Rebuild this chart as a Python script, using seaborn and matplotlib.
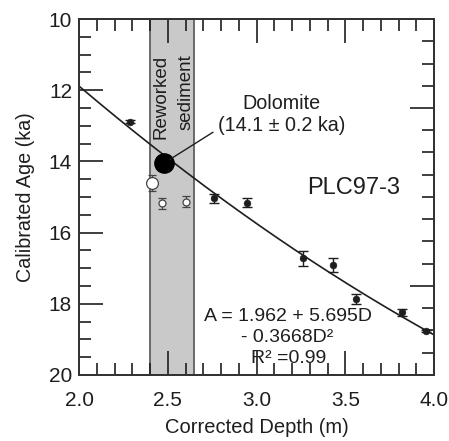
import matplotlib
matplotlib.use("Agg")
import matplotlib.pyplot as plt
import seaborn as sns
import numpy as np
import pandas as pd
from matplotlib.ticker import MultipleLocator, FixedLocator, NullFormatter

# ---- data ----
depth_filled = [2.29, 2.76, 2.945, 3.26, 3.43, 3.56, 3.82, 3.955]
age_filled = [12.88, 15.04, 15.16, 16.72, 16.91, 17.87, 18.24, 18.76]
err_filled = [0.04, 0.13, 0.13, 0.21, 0.20, 0.14, 0.10, 0.03]

depth_open = [2.41, 2.47, 2.60]
age_open = [14.6, 15.18, 15.13]
err_open = [0.22, 0.16, 0.16]
size_open = [8.5, 5.0, 5.0]

dolomite_depth = [2.48]
dolomite_age = [14.05]
dolomite_err = [0.22]

fit_coef = [1.962, 5.695, -0.3668]   # A = c0 + c1*D + c2*D^2
fit_range = [2.0, 4.0]
band = [2.4, 2.65]

x_ticks = [2.0, 2.5, 3.0, 3.5, 4.0]
x_ticklabels = ["2.0", "2.5", "3.0", "3.5", "4.0"]
y_ticks = [10, 12, 14, 16, 18, 20]
right_major = [12.5, 17.5]
right_minor_step = 0.625

# ---- style ----
sns.set_style("white")
plt.rcParams['font.family'] = ['Liberation Sans', 'DejaVu Sans']
ink = "#1e1e1e"

fig = plt.figure(figsize=(4.49, 4.41), dpi=100)
ax = fig.add_axes([0.176, 0.1497, 0.7906, 0.8072])

ax.axvspan(band[0], band[1], facecolor="#c9c9c9", edgecolor="#555555", lw=1.2, zorder=0.5)

D = np.linspace(fit_range[0], fit_range[1], 200)
A = fit_coef[0] + fit_coef[1] * D + fit_coef[2] * D ** 2
sns.lineplot(x=D, y=A, ax=ax, color=ink, lw=1.2, zorder=2)

# error bars
ax.errorbar(depth_filled, age_filled, yerr=err_filled, fmt="none", ecolor=ink,
            elinewidth=1.0, capsize=3.8, capthick=1.0, zorder=3)
ax.errorbar(depth_open, age_open, yerr=err_open, fmt="none", ecolor="#444444",
            elinewidth=0.9, capsize=3.0, capthick=0.9, zorder=3)
ax.errorbar(dolomite_depth, dolomite_age, yerr=dolomite_err, fmt="none", ecolor=ink,
            elinewidth=1.0, capsize=3.8, capthick=1.0, zorder=3)

df_f = pd.DataFrame({"d": depth_filled, "a": age_filled})
sns.scatterplot(data=df_f, x="d", y="a", ax=ax, s=24, color=ink, edgecolor=ink, zorder=4)
for d, a, s in zip(depth_open, age_open, size_open):
    ax.plot([d], [a], marker="o", ms=s, mfc="white", mec="#444444", mew=0.9, ls="none", zorder=4)
sns.scatterplot(x=dolomite_depth, y=dolomite_age, ax=ax, s=190, color="black",
                edgecolor="black", zorder=5)

ax.set_xlim(2.0, 4.0)
ax.set_ylim(20, 10)
ax.set_xticks(x_ticks)
ax.set_xticklabels(x_ticklabels)
ax.set_yticks(y_ticks)
ax.xaxis.set_minor_locator(MultipleLocator(0.1))
ax.yaxis.set_minor_locator(MultipleLocator(0.5))
ax.tick_params(axis="x", which="both", direction="in", top=True, bottom=True,
               colors=ink, labelsize=15, pad=11.5)
ax.tick_params(axis="y", which="both", direction="in", left=True, right=False,
               colors=ink, labelsize=15, pad=5)
ax.tick_params(which="major", length=17, width=1.2)
ax.tick_params(which="minor", length=8.5, width=1.2)
# hide the major tick marks at the corners (2.0 / 4.0)
for t in ax.xaxis.get_major_ticks():
    if t.get_loc() in (2.0, 4.0):
        t.tick1line.set_visible(False)
        t.tick2line.set_visible(False)
for t in ax.yaxis.get_major_ticks():
    if t.get_loc() in (10, 20):
        t.tick1line.set_visible(False)

ax2 = ax.twinx()
ax2.set_ylim(20, 10)
minor_r = [10 + right_minor_step * i for i in range(1, 16) if (10 + right_minor_step * i) not in right_major]
ax2.yaxis.set_major_locator(FixedLocator(right_major))
ax2.yaxis.set_minor_locator(FixedLocator(minor_r))
ax2.yaxis.set_major_formatter(NullFormatter())
ax2.tick_params(axis="y", which="both", direction="in", right=True, left=False, colors=ink)
ax2.tick_params(which="major", length=17, width=1.2)
ax2.tick_params(which="minor", length=8.5, width=1.2)

for a_ in (ax, ax2):
    for sp in a_.spines.values():
        sp.set_color("#333333")
        sp.set_linewidth(1.4)

ax.set_xlabel("Corrected Depth (m)", fontsize=14.5, color=ink, labelpad=6)
ax.set_ylabel("Calibrated Age (ka)", fontsize=14.2, color=ink, labelpad=10)

ax.text(2.46, 11.0, "Reworked", rotation=90, ha="center", va="top",
        fontsize=13.5, color=ink, zorder=6)
ax.text(2.60, 11.0, "sediment", rotation=90, ha="center", va="top",
        fontsize=13.5, color=ink, zorder=6)
ax.text(3.14, 12.67, "Dolomite\n(14.1 \u00b1 0.2 ka)", ha="center", va="center",
        fontsize=14.2, color=ink, linespacing=1.2, zorder=6)
ax.plot([2.51, 2.755], [13.95, 13.18], color=ink, lw=1.0, zorder=6)
ax.text(3.545, 14.75, "PLC97-3", ha="center", va="center", fontsize=17, color=ink, zorder=6)
ax.text(3.175, 18.35, "A = 1.962 + 5.695D", ha="center", va="center", fontsize=14, color=ink, zorder=6)
ax.text(3.175, 18.95, "- 0.3668D\u00b2", ha="center", va="center", fontsize=14, color=ink, zorder=6)
ax.text(3.18, 19.55, "R\u00b2 =0.99", ha="center", va="center", fontsize=14, color=ink, zorder=6)

fig.savefig("out.png", dpi=100)
